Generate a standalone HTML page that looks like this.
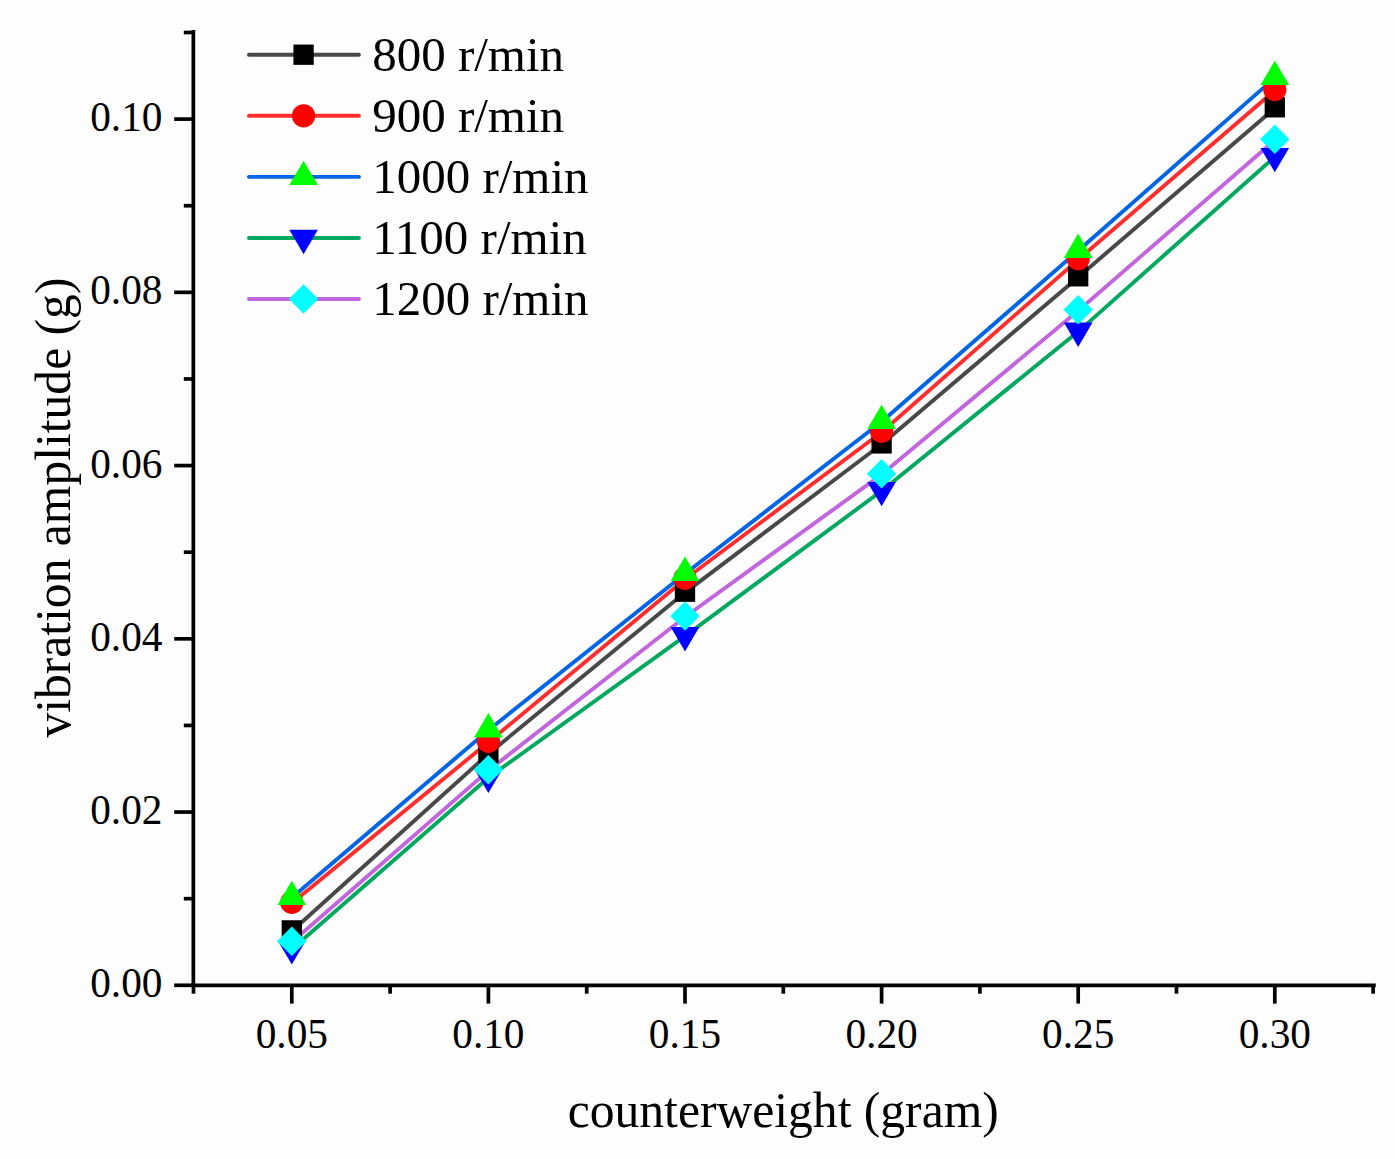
<!DOCTYPE html><html><head><meta charset="utf-8"><title>vibration amplitude vs counterweight</title>
<style>html,body{margin:0;padding:0;background:#fdfdfd;width:1395px;height:1159px;overflow:hidden}svg{display:block}text{font-family:"Liberation Serif",serif;fill:#000}</style></head><body>
<svg width="1395" height="1159" viewBox="0 0 1395 1159">
<rect width="1395" height="1159" fill="#fdfdfd"/>
<polyline points="291.80,931.30 488.40,753.90 685.00,592.60 881.60,444.30 1078.20,277.20 1274.80,108.20" fill="none" stroke="#484848" stroke-width="3.9" stroke-linejoin="round" stroke-linecap="round"/>
<polyline points="291.80,903.30 488.40,742.20 685.00,579.20 881.60,432.20 1078.20,259.70 1274.80,90.50" fill="none" stroke="#ff2e2e" stroke-width="3.9" stroke-linejoin="round" stroke-linecap="round"/>
<polyline points="291.80,897.80 488.40,730.20 685.00,573.70 881.60,421.80 1078.20,250.70 1274.80,77.80" fill="none" stroke="#0064e6" stroke-width="3.9" stroke-linejoin="round" stroke-linecap="round"/>
<polyline points="291.80,949.30 488.40,777.70 685.00,636.10 881.60,490.90 1078.20,331.60 1274.80,156.90" fill="none" stroke="#00a95f" stroke-width="3.9" stroke-linejoin="round" stroke-linecap="round"/>
<polyline points="291.80,942.20 488.40,770.60 685.00,617.00 881.60,474.60 1078.20,310.70 1274.80,140.20" fill="none" stroke="#c266de" stroke-width="3.9" stroke-linejoin="round" stroke-linecap="round"/>
<rect x="281.65" y="920.25" width="20.3" height="20.3" fill="#000000"/>
<rect x="478.25" y="742.85" width="20.3" height="20.3" fill="#000000"/>
<rect x="674.85" y="581.55" width="20.3" height="20.3" fill="#000000"/>
<rect x="871.45" y="433.25" width="20.3" height="20.3" fill="#000000"/>
<rect x="1068.05" y="266.15" width="20.3" height="20.3" fill="#000000"/>
<rect x="1264.65" y="97.15" width="20.3" height="20.3" fill="#000000"/>
<circle cx="291.80" cy="902.40" r="11.6" fill="#ff0000"/>
<circle cx="488.40" cy="741.30" r="11.6" fill="#ff0000"/>
<circle cx="685.00" cy="578.30" r="11.6" fill="#ff0000"/>
<circle cx="881.60" cy="431.30" r="11.6" fill="#ff0000"/>
<circle cx="1078.20" cy="258.80" r="11.6" fill="#ff0000"/>
<circle cx="1274.80" cy="89.60" r="11.6" fill="#ff0000"/>
<polygon points="291.80,880.70 306.10,905.00 277.50,905.00" fill="#00ff00"/>
<polygon points="488.40,713.10 502.70,737.40 474.10,737.40" fill="#00ff00"/>
<polygon points="685.00,556.60 699.30,580.90 670.70,580.90" fill="#00ff00"/>
<polygon points="881.60,404.70 895.90,429.00 867.30,429.00" fill="#00ff00"/>
<polygon points="1078.20,233.60 1092.50,257.90 1063.90,257.90" fill="#00ff00"/>
<polygon points="1274.80,60.70 1289.10,85.00 1260.50,85.00" fill="#00ff00"/>
<polygon points="291.80,964.60 306.10,940.30 277.50,940.30" fill="#0000ff"/>
<polygon points="488.40,793.00 502.70,768.70 474.10,768.70" fill="#0000ff"/>
<polygon points="685.00,651.40 699.30,627.10 670.70,627.10" fill="#0000ff"/>
<polygon points="881.60,506.20 895.90,481.90 867.30,481.90" fill="#0000ff"/>
<polygon points="1078.20,346.90 1092.50,322.60 1063.90,322.60" fill="#0000ff"/>
<polygon points="1274.80,172.20 1289.10,147.90 1260.50,147.90" fill="#0000ff"/>
<polygon points="291.80,926.60 306.50,941.30 291.80,956.00 277.10,941.30" fill="#00ffff"/>
<polygon points="488.40,755.00 503.10,769.70 488.40,784.40 473.70,769.70" fill="#00ffff"/>
<polygon points="685.00,601.40 699.70,616.10 685.00,630.80 670.30,616.10" fill="#00ffff"/>
<polygon points="881.60,459.00 896.30,473.70 881.60,488.40 866.90,473.70" fill="#00ffff"/>
<polygon points="1078.20,295.10 1092.90,309.80 1078.20,324.50 1063.50,309.80" fill="#00ffff"/>
<polygon points="1274.80,124.60 1289.50,139.30 1274.80,154.00 1260.10,139.30" fill="#00ffff"/>
<g stroke="#000" stroke-width="3.7" fill="none">
<line x1="193.35" y1="30" x2="193.35" y2="985.3"/>
<line x1="191.5" y1="985.3" x2="1375.75" y2="985.3"/>
<line x1="174.2" y1="985.30" x2="193.35" y2="985.30"/>
<line x1="174.2" y1="812.06" x2="193.35" y2="812.06"/>
<line x1="174.2" y1="638.82" x2="193.35" y2="638.82"/>
<line x1="174.2" y1="465.58" x2="193.35" y2="465.58"/>
<line x1="174.2" y1="292.34" x2="193.35" y2="292.34"/>
<line x1="174.2" y1="119.10" x2="193.35" y2="119.10"/>
<line x1="183.8" y1="898.68" x2="193.35" y2="898.68"/>
<line x1="183.8" y1="725.44" x2="193.35" y2="725.44"/>
<line x1="183.8" y1="552.20" x2="193.35" y2="552.20"/>
<line x1="183.8" y1="378.96" x2="193.35" y2="378.96"/>
<line x1="183.8" y1="205.72" x2="193.35" y2="205.72"/>
<line x1="183.8" y1="32.48" x2="193.35" y2="32.48"/>
<line x1="291.80" y1="985.3" x2="291.80" y2="1003.6"/>
<line x1="488.40" y1="985.3" x2="488.40" y2="1003.6"/>
<line x1="685.00" y1="985.3" x2="685.00" y2="1003.6"/>
<line x1="881.60" y1="985.3" x2="881.60" y2="1003.6"/>
<line x1="1078.20" y1="985.3" x2="1078.20" y2="1003.6"/>
<line x1="1274.80" y1="985.3" x2="1274.80" y2="1003.6"/>
<line x1="193.50" y1="985.3" x2="193.50" y2="993.7"/>
<line x1="390.10" y1="985.3" x2="390.10" y2="993.7"/>
<line x1="586.70" y1="985.3" x2="586.70" y2="993.7"/>
<line x1="783.30" y1="985.3" x2="783.30" y2="993.7"/>
<line x1="979.90" y1="985.3" x2="979.90" y2="993.7"/>
<line x1="1176.50" y1="985.3" x2="1176.50" y2="993.7"/>
<line x1="1373.10" y1="985.3" x2="1373.10" y2="993.7"/>
</g>
<text x="162.5" y="997.35" font-size="41.3" text-anchor="end">0.00</text>
<text x="162.5" y="824.11" font-size="41.3" text-anchor="end">0.02</text>
<text x="162.5" y="650.87" font-size="41.3" text-anchor="end">0.04</text>
<text x="162.5" y="477.63" font-size="41.3" text-anchor="end">0.06</text>
<text x="162.5" y="304.39" font-size="41.3" text-anchor="end">0.08</text>
<text x="162.5" y="131.15" font-size="41.3" text-anchor="end">0.10</text>
<text x="291.80" y="1047.5" font-size="41.3" text-anchor="middle">0.05</text>
<text x="488.40" y="1047.5" font-size="41.3" text-anchor="middle">0.10</text>
<text x="685.00" y="1047.5" font-size="41.3" text-anchor="middle">0.15</text>
<text x="881.60" y="1047.5" font-size="41.3" text-anchor="middle">0.20</text>
<text x="1078.20" y="1047.5" font-size="41.3" text-anchor="middle">0.25</text>
<text x="1274.80" y="1047.5" font-size="41.3" text-anchor="middle">0.30</text>
<text x="567.72" y="1127.3" font-size="49.6">counterweight (gram)</text>
<text transform="translate(70.1,737.6) rotate(-90)" font-size="49.6">vibration amplitude (g)</text>
<line x1="248.95" y1="54.70" x2="358.95" y2="54.70" stroke="#484848" stroke-width="3.9" stroke-linecap="round"/>
<rect x="293.45" y="44.55" width="20.3" height="20.3" fill="#000000"/>
<text x="372.2" y="71.10" font-size="49.0">800 r/min</text>
<line x1="248.95" y1="115.78" x2="358.95" y2="115.78" stroke="#ff2e2e" stroke-width="3.9" stroke-linecap="round"/>
<circle cx="303.60" cy="115.78" r="11.6" fill="#ff0000"/>
<text x="372.2" y="132.18" font-size="49.0">900 r/min</text>
<line x1="248.95" y1="176.86" x2="358.95" y2="176.86" stroke="#0064e6" stroke-width="3.9" stroke-linecap="round"/>
<polygon points="303.60,160.66 317.90,184.96 289.30,184.96" fill="#00ff00"/>
<text x="372.2" y="193.26" font-size="49.0">1000 r/min</text>
<line x1="248.95" y1="237.94" x2="358.95" y2="237.94" stroke="#00a95f" stroke-width="3.9" stroke-linecap="round"/>
<polygon points="303.60,254.14 317.90,229.84 289.30,229.84" fill="#0000ff"/>
<text x="372.2" y="254.34" font-size="49.0">1100 r/min</text>
<line x1="248.95" y1="299.02" x2="358.95" y2="299.02" stroke="#c266de" stroke-width="3.9" stroke-linecap="round"/>
<polygon points="303.60,284.32 318.30,299.02 303.60,313.72 288.90,299.02" fill="#00ffff"/>
<text x="372.2" y="315.42" font-size="49.0">1200 r/min</text>
</svg></body></html>
